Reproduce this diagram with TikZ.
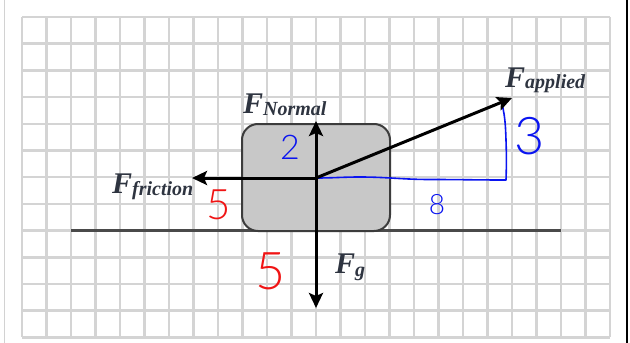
\documentclass[tikz,border=0pt]{standalone}
\usepackage{fontspec}
\setmainfont{Liberation Serif}
\newfontfamily\handfont{Lato}[UprightFont=* Light]
\usetikzlibrary{arrows.meta}
\definecolor{gridc}{HTML}{D4D4D4}
\definecolor{labc}{HTML}{2E3440}
\definecolor{groundc}{HTML}{4A4A4A}
\definecolor{boxfill}{HTML}{C8C8C8}
\definecolor{boxline}{HTML}{3C3C3C}
\definecolor{penblue}{HTML}{0A14F0}
\definecolor{penred}{HTML}{F01414}
\newcommand\subsz{\fontsize{20}{20}\selectfont}
\begin{document}
\begin{tikzpicture}[x=1pt,y=-1pt,
  force/.style={line width=3pt,-{Stealth[length=15pt,width=14pt,inset=3pt]}},
  lab/.style={anchor=base west,inner sep=0pt,text=labc,font=\fontsize{30}{30}\selectfont\bfseries\itshape},
  digit/.style={inner sep=0pt},
  pen/.style={line width=1.6pt,line cap=round,line join=round}]
\useasboundingbox (0,0) rectangle (630,343);
\fill[white] (0,0) rectangle (630,343);
% frame edges
\draw[gray!35,line width=1pt] (4,0) -- (4,343);
\draw[black,line width=2pt] (627,0) -- (627,343);
% grid
\foreach \i in {0,...,24} \draw[gridc,line width=2.5pt] ({22+24.5*\i},17) -- ({22+24.5*\i},337.4);
\foreach \j in {0,...,12} \draw[gridc,line width=2.5pt] (22,{17+26.7*\j}) -- (610,{17+26.7*\j});
% ground
\coordinate (gl) at (71,230.6);
\coordinate (gr) at (561,230.6);
\draw[groundc,line width=2.5pt] (gl) -- (gr);
% block
\node[draw=boxline,fill=boxfill,line width=2pt,rounded corners=16pt,
      minimum width=148pt,minimum height=107pt,inner sep=0pt] (box) at (316,177.5) {};
% force origin and tips
\coordinate (c) at (316,178);
\coordinate (tn) at (316,121);
\coordinate (tg) at (316,308);
\coordinate (tf) at (192,178);
\coordinate (ta) at (512,98);
% blue handwritten triangle
\coordinate (b1) at (360,177);
\coordinate (b2) at (430,179.5);
\coordinate (b3) at (506,180);
\coordinate (b4) at (506,140);
\coordinate (b5) at (501,100);
\draw[penblue,pen] (c) to[out=0,in=180] (b1) to[out=0,in=180] (b2) to[out=0,in=180] (b3)
   to[out=88,in=-88] (b4) to[out=92,in=-75] (b5);
% forces
\draw[force] (c) -- (tn);
\draw[force] (c) -- (tg);
\draw[force] (c) -- (tf);
\draw[force] (c) -- (ta);
% labels
\node[lab] (lN) at (243,113) {F\raisebox{-2pt}{\subsz Normal}};
\node[lab] (lA) at (505,87) {F\raisebox{-1pt}{\subsz applied}};
\node[lab] (lF) at (112,193) {F\raisebox{-2pt}{\subsz friction}};
\node[lab] (lG) at (335,273) {F\raisebox{-3pt}{\subsz g}};
% handwritten numbers
\node[digit,text=penblue,font=\handfont\fontsize{34}{34}\selectfont] (n2) at (290,147) {2};
\node[digit,text=penblue,font=\handfont\fontsize{52}{52}\selectfont] (n3) at (530,136) {3};
\node[digit,text=penblue,font=\handfont\fontsize{28}{28}\selectfont] (n8) at (437,205) {8};
\node[digit,text=penred,font=\handfont\fontsize{42}{42}\selectfont] (n5a) at (219,205) {5};
\node[digit,text=penred,font=\handfont\fontsize{52}{52}\selectfont] (n5b) at (271,271) {5};
\end{tikzpicture}
\end{document}
